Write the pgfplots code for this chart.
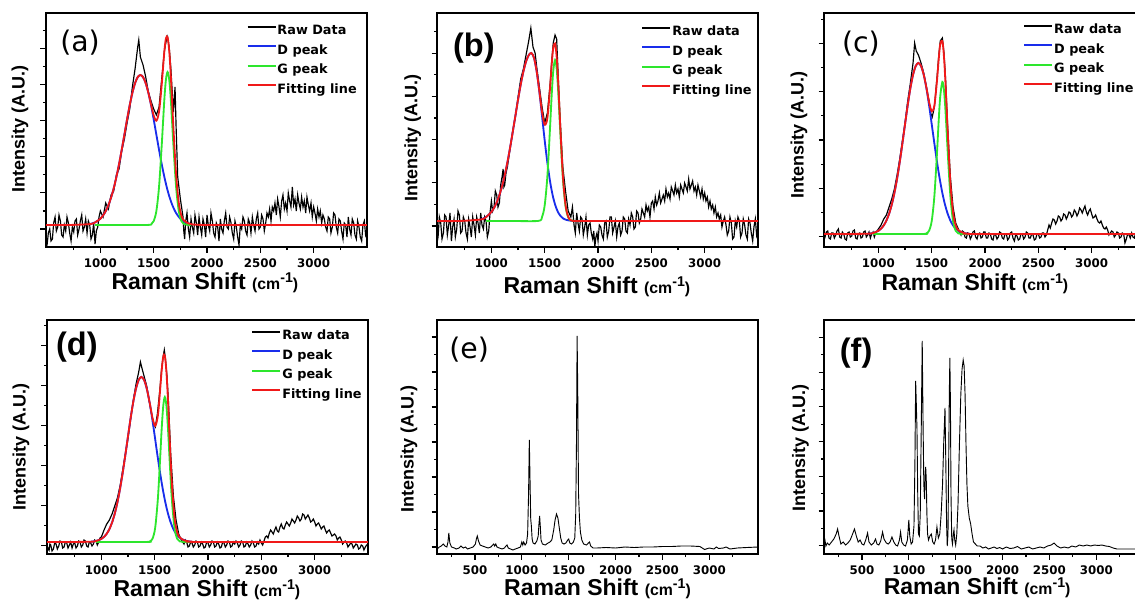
\documentclass[border=0pt]{standalone}
\usepackage{fontspec}
\setmainfont{Liberation Sans}
\newfontfamily\dejavu{DejaVu Sans}
\usepackage{pgfplots}
\pgfplotsset{compat=1.18}
\definecolor{dblue}{RGB}{25,45,235}
\definecolor{ggreen}{RGB}{45,230,45}
\definecolor{fred}{RGB}{240,25,25}
\newcommand{\xlab}{Raman Shift {\fontsize{9.5}{10}\selectfont(cm\raisebox{4.2pt}{\fontsize{8.5}{9}\selectfont -1})}}
\pgfplotsset{
  panel/.style={
    scale only axis, width=192.6pt, height=140.4pt,
    ymin=0, ymax=234,
    axis line style={line width=0.9pt},
    tick align=outside, xtick pos=bottom, ytick pos=left,
    major tick length=3.3pt, minor tick length=1.8pt,
    every tick/.style={black, line width=0.7pt},
    yticklabels={,,},
    ticklabel style={font=\dejavu\bfseries\fontsize{7.1}{8}\selectfont},
    /pgf/number format/assume math mode=true,
    /pgf/number format/1000 sep={},
    xlabel={\xlab},
    ylabel={Intensity (A.U.)},
    xlabel style={font=\bfseries\fontsize{13.8}{15}\selectfont, anchor=base},
    ylabel style={font=\bfseries\fontsize{10.8}{12}\selectfont, anchor=center},
    legend cell align=left,
    legend style={draw=none, fill=none, inner sep=0pt, row sep=3.1pt,
      font=\dejavu\bfseries\fontsize{7.7}{8}\selectfont,
      nodes={inner sep=0.5pt, text height=6pt, text depth=1.6pt}},
  },
  fitx/.style={xmin=490, xmax=3500, xtick={1000,1500,2000,2500,3000},
    minor xtick={750,1250,1750,2250,2750,3250}},
  specx/.style={xmin=95, xmax=3520, xtick={500,1000,1500,2000,2500,3000},
    minor xtick={250,750,1250,1750,2250,2750,3250}},
  rawln/.style={color=black, line width=0.7pt,
    legend image code/.code={\draw[black, line width=1.1pt] (0pt,2.6pt) -- (16.8pt,2.6pt);}},
  dln/.style={color=dblue, line width=1.1pt, smooth,
    legend image code/.code={\draw[dblue, line width=1.2pt] (0pt,2.6pt) -- (16.8pt,2.6pt);}},
  gln/.style={color=ggreen, line width=1.1pt, smooth,
    legend image code/.code={\draw[ggreen, line width=1.2pt] (0pt,2.6pt) -- (16.8pt,2.6pt);}},
  fitln/.style={color=fred, line width=1.1pt, smooth,
    legend image code/.code={\draw[fred, line width=1.2pt] (0pt,2.6pt) -- (16.8pt,2.6pt);}},
  specln/.style={color=black, line width=0.55pt},
}
\begin{document}
\begin{tikzpicture}
% ---------------- (a)
\begin{axis}[panel, fitx, at={(27.6pt,211.8pt)}, anchor=south west,
  ytick={18,54.1,90.2,126.3,162.4,198.5},
  minor ytick={36,72.1,108.2,144.3,180.4,216.5},
  xlabel style={at={(axis description cs:0.495,-0.18)}},
  ylabel style={at={(axis description cs:-0.081,0.504)}},
  legend style={at={(0.624,0.955)}, anchor=north west}]
\addplot[rawln] coordinates {(490,0) (500,2) (512,14) (525,18) (537,6) (550,8) (562,24) (575,30) (587,16) (600,20) (612,32) (625,26) (637,12) (650,10) (662,22) (675,16) (687,30) (700,24) (712,14) (725,6) (737,20) (750,15) (762,26) (775,28) (787,12) (800,18) (812,26) (825,32) (837,16) (850,20) (862,28) (875,14) (887,26) (900,22) (912,8) (925,12) (937,24) (950,3) (962,16) (975,20) (987,30) (1000,36) (1025,30) (1050,44) (1075,38) (1100,52) (1125,56) (1150,72) (1175,78) (1200,96) (1225,108) (1250,124) (1275,138) (1300,160) (1325,178) (1350,200) (1360,207) (1375,190) (1400,182) (1425,170) (1450,155) (1475,146) (1500,138) (1525,132) (1550,140) (1575,168) (1600,196) (1615,205) (1630,210) (1645,200) (1660,180) (1685,135) (1700,160) (1710,120) (1725,70) (1750,48) (1775,30) (1782,16) (1790,8) (1800,26) (1812,34) (1825,18) (1837,10) (1850,28) (1862,20) (1875,14) (1887,32) (1900,24) (1912,12) (1925,30) (1937,20) (1950,12) (1962,28) (1975,22) (1987,10) (2000,32) (2012,22) (2025,16) (2037,34) (2050,26) (2062,14) (2075,10) (2087,24) (2100,20) (2112,6) (2125,28) (2137,18) (2150,14) (2162,26) (2175,34) (2187,20) (2200,18) (2212,30) (2225,24) (2237,14) (2250,8) (2262,26) (2275,20) (2287,10) (2300,2) (2312,22) (2325,18) (2337,30) (2350,26) (2362,16) (2375,12) (2387,28) (2400,24) (2412,14) (2425,30) (2437,22) (2450,16) (2462,28) (2475,34) (2487,18) (2500,20) (2512,32) (2525,28) (2537,16) (2550,24) (2562,34) (2575,30) (2587,38) (2600,26) (2612,40) (2625,36) (2637,44) (2650,32) (2662,48) (2675,40) (2687,30) (2700,46) (2712,52) (2725,38) (2737,44) (2750,36) (2762,54) (2775,46) (2787,40) (2800,60) (2812,42) (2825,48) (2837,36) (2850,52) (2862,44) (2875,38) (2887,50) (2900,40) (2912,46) (2925,34) (2937,50) (2950,42) (2962,36) (2975,44) (2987,30) (3000,40) (3012,34) (3025,26) (3037,38) (3050,30) (3062,36) (3075,24) (3087,32) (3100,28) (3112,20) (3125,16) (3137,30) (3150,28) (3162,14) (3175,20) (3187,34) (3200,32) (3212,20) (3225,14) (3237,28) (3250,26) (3262,16) (3275,8) (3287,24) (3300,22) (3312,10) (3325,30) (3337,18) (3350,12) (3362,28) (3375,24) (3387,12) (3400,8) (3412,26) (3425,20) (3437,10) (3450,6) (3462,22) (3475,26) (3487,12) (3500,16)};
\addlegendentry{Raw Data}
\addplot[dln] coordinates {(900,22.9) (950,24.6) (1000,28.3) (1025,31.5) (1050,35.9) (1075,41.8) (1100,49.3) (1125,58.7) (1150,70.0) (1175,82.9) (1200,97.2) (1225,112.3) (1250,127.5) (1275,141.8) (1300,154.1) (1325,163.8) (1350,169.9) (1375,172) (1400,169.9) (1425,163.8) (1450,154.1) (1475,141.8) (1500,127.5) (1525,112.3) (1550,97.2) (1575,82.9) (1600,70.0) (1625,58.7) (1650,49.3) (1675,41.8) (1700,35.9) (1725,31.5) (1750,28.3) (1775,26.1) (1800,24.6) (1850,22.9)};
\addlegendentry{D peak}
\addplot[gln] coordinates {(950,22) (1200,22) (1450,22.1) (1480,23.2) (1500,25.9) (1525,36.0) (1550,60.2) (1575,101.4) (1600,147.9) (1615,167.7) (1630,175) (1645,167.7) (1660,147.9) (1685,101.4) (1710,60.2) (1735,36.0) (1760,25.9) (1780,23.2) (1810,22.3) (1850,22)};
\addlegendentry{G peak}
\addplot[fitln] coordinates {(490,22) (700,22) (900,22.9) (950,24.6) (1000,28.3) (1025,31.5) (1050,35.9) (1075,41.8) (1100,49.3) (1125,58.7) (1150,70.0) (1175,82.9) (1200,97.2) (1225,112.3) (1250,127.5) (1275,141.8) (1300,154.1) (1325,163.8) (1350,169.9) (1375,172) (1400,169.9) (1425,163.8) (1450,154.1) (1475,142.6) (1500,131.4) (1525,126.3) (1550,135.4) (1575,162.3) (1600,195.9) (1615,208.7) (1630,209.7) (1645,196.7) (1660,172.0) (1685,118.6) (1710,72.2) (1735,44.1) (1760,31.2) (1780,26.9) (1810,24.4) (1850,22.9) (1900,22.3) (2100,22) (3500,22)};
\addlegendentry{Fitting line}
\node[font=\dejavu\fontsize{17}{18}\selectfont] at (rel axis cs:0.106,0.872) {(a)};
\end{axis}
% ---------------- (b)
\begin{axis}[panel, fitx, at={(262.2pt,211.8pt)}, anchor=south west,
  ytick={21,64.2,107.4,150.6,193.8},
  minor ytick={42.6,85.8,129,172.2,215.4},
  xlabel style={at={(axis description cs:0.498,-0.197)}},
  ylabel style={at={(axis description cs:-0.076,0.465)}},
  legend style={at={(0.636,0.951)}, anchor=north west}]
\addplot[rawln] coordinates {(490,4) (500,10) (512,30) (525,24) (537,8) (550,14) (562,32) (575,30) (587,12) (600,22) (612,34) (625,6) (637,20) (650,28) (662,10) (675,18) (687,36) (700,32) (712,14) (725,16) (737,30) (750,26) (762,14) (775,8) (787,28) (800,20) (812,10) (825,30) (837,22) (850,12) (862,30) (875,24) (887,14) (900,34) (912,22) (925,18) (937,30) (950,26) (962,10) (975,16) (987,34) (1000,46) (1012,36) (1025,40) (1037,56) (1050,52) (1062,40) (1075,44) (1087,62) (1100,70) (1110,78) (1117,60) (1125,62) (1137,74) (1150,80) (1175,98) (1200,116) (1225,130) (1250,150) (1275,168) (1300,178) (1325,192) (1350,206) (1370,219) (1390,200) (1410,194) (1425,180) (1450,160) (1475,140) (1500,124) (1525,134) (1550,162) (1565,185) (1580,204) (1597,212) (1612,208) (1627,170) (1645,128) (1670,80) (1695,56) (1720,36) (1745,30) (1760,40) (1775,22) (1787,14) (1800,34) (1812,24) (1825,16) (1837,30) (1850,28) (1862,12) (1875,20) (1887,30) (1900,12) (1912,22) (1925,24) (1937,14) (1950,8) (1960,16) (1970,0) (1980,10) (1990,14) (2000,6) (2012,22) (2025,20) (2037,12) (2050,8) (2062,24) (2075,26) (2087,10) (2100,16) (2112,30) (2125,30) (2137,14) (2150,20) (2162,26) (2175,10) (2187,20) (2200,24) (2212,12) (2225,16) (2237,30) (2250,28) (2262,16) (2275,14) (2287,28) (2300,22) (2312,34) (2325,30) (2337,18) (2350,20) (2362,36) (2375,34) (2387,24) (2400,28) (2412,38) (2425,34) (2437,30) (2450,42) (2462,36) (2475,40) (2487,30) (2500,44) (2512,46) (2525,38) (2537,50) (2550,42) (2562,46) (2575,54) (2587,44) (2600,48) (2612,52) (2625,46) (2637,58) (2650,50) (2662,54) (2675,48) (2687,60) (2700,56) (2712,52) (2725,62) (2737,54) (2750,58) (2762,50) (2775,62) (2787,58) (2800,54) (2812,64) (2825,60) (2837,56) (2850,68) (2862,58) (2875,62) (2887,66) (2900,56) (2912,60) (2925,52) (2937,62) (2950,56) (2962,50) (2975,58) (2987,48) (3000,54) (3012,46) (3025,50) (3037,40) (3050,46) (3062,38) (3075,42) (3087,34) (3100,40) (3112,30) (3125,34) (3137,28) (3150,32) (3162,20) (3175,26) (3187,30) (3200,22) (3212,12) (3225,16) (3237,30) (3250,24) (3262,8) (3275,10) (3287,26) (3300,20) (3312,30) (3325,26) (3337,10) (3350,14) (3362,28) (3375,22) (3387,12) (3400,8) (3412,28) (3425,24) (3437,14) (3450,6) (3462,20) (3475,28) (3487,12) (3500,18)};
\addlegendentry{Raw data}
\addplot[dln] coordinates {(900,27.5) (950,29.9) (1000,35.0) (1025,39.1) (1050,44.7) (1075,51.8) (1100,60.8) (1125,71.7) (1150,84.6) (1175,99.1) (1200,114.9) (1225,131.2) (1250,147.4) (1275,162.5) (1300,175.4) (1325,185.5) (1350,191.8) (1375,194) (1400,189.1) (1425,175.3) (1450,154.9) (1475,130.9) (1500,106.4) (1525,84.2) (1550,65.7) (1575,51.5) (1600,41.5) (1625,34.8) (1650,30.8) (1675,28.4) (1700,27.2) (1750,26.2) (1800,26)};
\addlegendentry{D peak}
\addplot[gln] coordinates {(950,26) (1200,26) (1440,26.1) (1475,30.1) (1500,41.8) (1525,70.8) (1550,119.4) (1565,151.1) (1580,175.9) (1597,187) (1612,178.3) (1627,154.9) (1645,117.1) (1670,69.2) (1695,41.0) (1720,29.8) (1745,26.7) (1800,26) (1850,26)};
\addlegendentry{G peak}
\addplot[fitln] coordinates {(490,26) (700,26) (900,27.5) (950,29.9) (1000,35.0) (1025,39.1) (1050,44.7) (1075,51.8) (1100,60.8) (1125,71.7) (1150,84.6) (1175,99.1) (1200,114.9) (1225,131.2) (1250,147.4) (1275,162.5) (1300,175.4) (1325,185.5) (1350,191.8) (1375,194) (1400,189.1) (1425,175.3) (1450,155.7) (1475,135.0) (1500,122.2) (1525,129.0) (1550,159.1) (1565,181.8) (1580,199.1) (1597,203.5) (1612,190.2) (1627,163.3) (1645,122.5) (1670,72.0) (1695,42.3) (1720,30.4) (1745,26.7) (1800,26) (2000,26) (3500,26)};
\addlegendentry{Fitting line}
\node[font=\bfseries\fontsize{19.5}{20}\selectfont] at (rel axis cs:0.115,0.850) {(b)};
\end{axis}
% ---------------- (c)
\begin{axis}[panel, fitx, at={(494.4pt,211.8pt)}, anchor=south west,
  ytick={10.3,58.65,107,155.35,203.7},
  minor ytick={34.5,82.8,131.2,179.5,227.9},
  xlabel style={at={(axis description cs:0.47,-0.187)}},
  ylabel style={at={(axis description cs:-0.078,0.479)}},
  legend style={at={(0.620,0.959)}, anchor=north west}]
\addplot[rawln] coordinates {(490,12) (500,10) (512,15) (525,16) (537,9) (550,8) (562,14) (575,14) (587,9) (600,12) (612,16) (625,18) (637,10) (650,9) (662,15) (675,13) (687,8) (700,7) (712,14) (725,15) (737,10) (750,11) (762,16) (775,17) (787,9) (800,8) (812,13) (825,14) (837,9) (850,10) (862,15) (875,16) (887,10) (900,12) (912,15) (925,9) (937,13) (950,15) (962,10) (975,14) (987,16) (1000,18) (1025,22) (1050,28) (1075,32) (1100,40) (1125,48) (1150,58) (1175,72) (1200,88) (1225,106) (1250,124) (1275,146) (1300,164) (1325,184) (1340,204) (1355,196) (1375,192) (1400,184) (1425,174) (1450,160) (1475,146) (1490,134) (1505,130) (1525,140) (1550,170) (1565,190) (1580,206) (1600,209) (1615,194) (1630,168) (1650,120) (1675,70) (1700,40) (1725,24) (1750,18) (1775,12) (1787,16) (1800,15) (1812,10) (1825,9) (1837,14) (1850,13) (1862,8) (1875,11) (1887,15) (1900,16) (1912,10) (1925,8) (1937,13) (1950,14) (1962,9) (1975,10) (1987,15) (2000,15) (2012,9) (2025,9) (2037,14) (2050,13) (2062,8) (2075,7) (2087,13) (2100,12) (2112,8) (2125,10) (2137,15) (2150,14) (2162,9) (2175,8) (2187,13) (2200,13) (2212,7) (2225,9) (2237,14) (2250,15) (2262,9) (2275,6) (2287,12) (2300,11) (2312,7) (2325,8) (2337,13) (2350,13) (2362,8) (2375,10) (2387,15) (2400,14) (2412,9) (2425,9) (2437,13) (2450,12) (2462,7) (2475,8) (2487,13) (2500,13) (2512,9) (2525,10) (2537,14) (2550,14) (2562,10) (2575,12) (2590,18) (2600,22) (2612,19) (2625,24) (2637,28) (2650,27) (2662,23) (2675,26) (2687,31) (2700,30) (2712,26) (2725,28) (2737,33) (2750,32) (2762,28) (2775,31) (2787,35) (2800,34) (2812,30) (2825,32) (2837,37) (2850,35) (2862,31) (2875,34) (2887,39) (2900,37) (2912,34) (2925,38) (2937,41) (2950,35) (2962,32) (2975,36) (2987,38) (3000,33) (3012,29) (3025,30) (3037,32) (3050,28) (3062,25) (3075,24) (3087,26) (3100,22) (3112,19) (3125,18) (3137,20) (3150,17) (3162,12) (3175,14) (3187,16) (3200,15) (3212,10) (3225,12) (3237,15) (3250,14) (3262,9) (3275,10) (3287,14) (3300,13) (3312,4) (3325,8) (3337,13) (3350,12) (3362,9) (3375,14) (3387,10) (3400,9) (3412,14) (3425,12) (3437,9) (3450,11) (3462,14) (3475,13) (3487,8) (3500,10)};
\addlegendentry{Raw data}
\addplot[dln] coordinates {(900,13.3) (950,14.0) (1000,16.2) (1025,18.4) (1050,21.6) (1075,26.4) (1100,33.2) (1125,42.2) (1150,53.9) (1175,68.2) (1200,84.9) (1225,103.5) (1250,122.9) (1275,141.9) (1300,158.9) (1325,172.3) (1350,181.0) (1375,184) (1400,181.0) (1425,172.3) (1450,158.9) (1475,141.9) (1500,122.9) (1525,103.5) (1550,84.9) (1575,68.2) (1600,53.9) (1625,42.2) (1650,33.2) (1675,26.4) (1700,21.6) (1725,18.4) (1750,16.2) (1800,14.0) (1850,13.3)};
\addlegendentry{D peak}
\addplot[gln] coordinates {(950,13) (1200,13) (1440,13.1) (1450,13.6) (1475,16.2) (1500,25.9) (1525,50.9) (1550,95.0) (1565,125.4) (1580,150.7) (1600,165) (1615,156.8) (1630,134.7) (1650,95.0) (1675,50.9) (1700,25.9) (1725,16.2) (1750,13.6) (1800,13) (1850,13)};
\addlegendentry{G peak}
\addplot[fitln] coordinates {(490,13) (700,13) (900,13.3) (950,14.0) (1000,16.2) (1025,18.4) (1050,21.6) (1075,26.4) (1100,33.2) (1125,42.2) (1150,53.9) (1175,68.2) (1200,84.9) (1225,103.5) (1250,122.9) (1275,141.9) (1300,158.9) (1325,172.3) (1350,181.0) (1375,184) (1400,181.0) (1425,172.3) (1450,159.5) (1475,145.1) (1500,135.8) (1525,141.4) (1550,166.9) (1565,187.0) (1580,202.8) (1600,205.9) (1615,190.4) (1630,161.9) (1650,115.2) (1675,64.3) (1700,34.5) (1725,21.6) (1750,16.8) (1800,14.0) (1850,13.3) (2000,13) (3500,13)};
\addlegendentry{Fitting line}
\node[font=\dejavu\fontsize{17}{18}\selectfont] at (rel axis cs:0.115,0.868) {(c)};
\end{axis}
% ---------------- (d)
\begin{axis}[panel, fitx, at={(28.2pt,27.6pt)}, anchor=south west,
  ytick={8.3,48.4,88.5,128.6,168.7,208.8},
  minor ytick={28.35,68.45,108.55,148.65,188.75,228.85},
  xlabel style={at={(axis description cs:0.498,-0.182)}},
  ylabel style={at={(axis description cs:-0.081,0.459)}},
  legend style={at={(0.636,0.964)}, anchor=north west}]
\addplot[rawln] coordinates {(490,1) (500,6) (510,4) (517,10) (525,9) (537,3) (550,5) (562,11) (575,10) (587,5) (600,8) (612,13) (625,12) (637,6) (650,7) (662,12) (675,11) (687,6) (700,9) (712,12) (725,6) (737,10) (750,11) (762,6) (775,8) (787,13) (800,12) (812,7) (825,9) (837,14) (850,13) (862,8) (875,7) (887,12) (900,11) (912,8) (925,10) (937,14) (950,13) (962,9) (975,12) (987,16) (1000,17) (1025,24) (1050,30) (1075,34) (1100,40) (1125,48) (1150,56) (1175,68) (1200,84) (1225,100) (1250,116) (1275,136) (1300,154) (1325,170) (1350,182) (1366,192) (1380,186) (1400,178) (1425,168) (1450,152) (1475,138) (1490,130) (1506,127) (1525,140) (1550,166) (1565,186) (1580,198) (1590,204) (1600,196) (1615,178) (1630,150) (1650,100) (1675,58) (1700,34) (1725,20) (1750,14) (1775,10) (1787,14) (1800,12) (1812,7) (1825,8) (1837,12) (1850,11) (1862,7) (1875,9) (1887,13) (1900,12) (1912,7) (1925,8) (1937,12) (1950,10) (1962,6) (1975,7) (1987,12) (2000,11) (2012,7) (2025,9) (2037,13) (2050,12) (2062,7) (2075,8) (2087,12) (2100,10) (2112,6) (2125,7) (2137,12) (2150,11) (2162,7) (2175,9) (2187,13) (2200,12) (2212,7) (2225,8) (2237,12) (2250,10) (2262,13) (2275,11) (2287,7) (2300,9) (2312,13) (2325,12) (2337,7) (2350,8) (2362,12) (2375,10) (2387,7) (2400,9) (2412,13) (2425,11) (2437,7) (2450,8) (2462,12) (2475,10) (2487,14) (2500,11) (2512,9) (2525,13) (2537,17) (2550,18) (2562,16) (2575,21) (2587,24) (2600,22) (2612,20) (2625,24) (2637,27) (2650,23) (2662,22) (2675,27) (2687,30) (2700,26) (2712,25) (2725,29) (2737,32) (2750,30) (2762,28) (2775,31) (2787,35) (2800,33) (2812,31) (2825,34) (2837,38) (2850,36) (2862,33) (2875,35) (2887,40) (2900,39) (2912,35) (2925,37) (2937,39) (2950,36) (2962,32) (2975,33) (2987,35) (3000,32) (3012,28) (3025,30) (3037,31) (3050,28) (3062,25) (3075,27) (3087,28) (3100,24) (3112,21) (3125,23) (3137,24) (3150,21) (3162,18) (3175,19) (3187,20) (3200,18) (3212,14) (3225,16) (3237,17) (3250,14) (3262,10) (3275,12) (3287,13) (3300,11) (3312,7) (3325,9) (3337,11) (3350,10) (3362,6) (3375,8) (3387,10) (3400,9) (3412,5) (3425,6) (3437,9) (3450,8) (3462,4) (3475,7) (3487,9) (3500,9)};
\addlegendentry{Raw data}
\addplot[dln] coordinates {(900,12.3) (950,13.0) (1000,15.1) (1025,17.2) (1050,20.3) (1075,24.9) (1100,31.5) (1125,40.2) (1150,51.5) (1175,65.3) (1200,81.4) (1225,99.3) (1250,118.1) (1275,136.4) (1300,152.8) (1325,165.7) (1350,174.1) (1375,177) (1400,174.1) (1425,165.7) (1450,152.8) (1475,136.4) (1500,118.1) (1525,99.3) (1550,81.4) (1575,65.3) (1600,51.5) (1625,40.2) (1650,31.5) (1675,24.9) (1700,20.3) (1725,17.2) (1750,15.1) (1800,13.0) (1850,12.3)};
\addlegendentry{D peak}
\addplot[gln] coordinates {(950,12) (1200,12) (1440,12.1) (1455,12.6) (1480,15.4) (1505,26.6) (1530,55.8) (1550,93.7) (1565,124.4) (1580,148.0) (1595,157) (1610,148.0) (1625,124.4) (1640,93.7) (1660,55.8) (1685,26.6) (1710,15.4) (1735,12.6) (1800,12) (1850,12)};
\addlegendentry{G peak}
\addplot[fitln] coordinates {(490,12) (700,12) (900,12.3) (950,13.0) (1000,15.1) (1025,17.2) (1050,20.3) (1075,24.9) (1100,31.5) (1125,40.2) (1150,51.5) (1175,65.3) (1200,81.4) (1225,99.3) (1250,118.1) (1275,136.4) (1300,152.8) (1325,165.7) (1350,174.1) (1375,177) (1400,174.1) (1425,165.7) (1455,149.9) (1480,135.7) (1505,128.2) (1530,138.6) (1550,163.1) (1565,183.0) (1580,197.4) (1595,198.2) (1610,181.8) (1625,152.6) (1640,115.7) (1660,71.8) (1685,37.1) (1710,22.0) (1735,16.6) (1775,13.7) (1800,13.0) (1850,12.3) (2000,12) (3500,12)};
\addlegendentry{Fitting line}
\node[font=\bfseries\fontsize{19.5}{20}\selectfont] at (rel axis cs:0.093,0.885) {(d)};
\end{axis}
% ---------------- (e)
\begin{axis}[panel, specx, at={(262.2pt,27.6pt)}, anchor=south west,
  ytick={7,42,77,112,147,182,217},
  minor ytick={24.5,59.5,94.5,129.5,164.5,199.5},
  xlabel style={at={(axis description cs:0.50,-0.178)}},
  ylabel style={at={(axis description cs:-0.087,0.449)}}]
\addplot[specln] coordinates {(95,5) (120,7) (140,8) (162,10) (180,8) (200,7) (212,12) (221,21) (232,11) (250,7) (280,6) (300,5) (330,6) (350,8) (375,6) (400,7) (420,5) (450,6) (480,7) (505,10) (515,15) (525,18) (538,13) (555,9) (580,8) (610,7) (640,6) (670,7) (690,9) (700,10) (710,8) (722,10) (735,7) (760,6) (790,5) (815,6) (830,8) (842,9) (855,6) (880,5) (905,4) (930,5) (960,6) (985,7) (1000,12) (1010,9) (1020,12) (1035,9) (1050,11) (1062,20) (1072,60) (1080,114) (1088,72) (1095,35) (1102,28) (1110,15) (1120,11) (1140,10) (1160,13) (1175,18) (1183,30) (1190,38) (1197,28) (1205,14) (1220,10) (1250,9) (1280,11) (1300,12) (1320,14) (1340,24) (1355,34) (1370,40) (1385,36) (1400,26) (1415,16) (1430,11) (1450,10) (1470,11) (1490,14) (1500,15) (1512,11) (1530,10) (1550,12) (1565,16) (1575,40) (1583,110) (1590,218) (1597,160) (1605,60) (1615,36) (1625,22) (1640,14) (1660,10) (1690,9) (1710,11) (1722,12) (1735,8) (1760,6) (1800,6) (1900,6.5) (2000,6) (2100,7) (2200,6.5) (2300,7) (2400,7) (2500,7.5) (2600,7.5) (2700,8) (2800,8) (2900,7.5) (2950,4.5) (3000,6) (3050,5) (3075,7) (3100,5.5) (3150,6) (3180,7) (3220,5) (3300,6) (3400,6.5) (3520,7)};
\node[font=\dejavu\fontsize{17}{18}\selectfont] at (rel axis cs:0.10,0.872) {(e)};
\end{axis}
% ---------------- (f)
\begin{axis}[panel, specx, at={(494.4pt,27.6pt)}, anchor=south west,
  ytick={8.3,43,77.7,112.4,147.1,181.8,216.5},
  minor ytick={25.65,60.35,95.05,129.75,164.45,199.15},
  xlabel style={at={(axis description cs:0.477,-0.175)}},
  ylabel style={at={(axis description cs:-0.073,0.452)}}]
\addplot[specln] coordinates {(90,10) (105,14) (115,8) (130,11) (150,9) (175,12) (200,15) (225,20) (240,25) (255,18) (275,10) (300,12) (325,9) (350,11) (375,14) (400,20) (420,25) (440,18) (460,12) (480,14) (500,10) (520,9) (540,14) (560,21) (575,12) (600,9) (625,11) (645,15) (660,10) (680,9) (700,13) (720,22) (735,15) (760,11) (780,10) (800,12) (820,17) (840,12) (860,9) (880,8) (900,14) (912,22) (925,12) (945,9) (965,8) (985,14) (1000,34) (1010,18) (1025,10) (1040,12) (1055,28) (1065,90) (1073,173) (1080,150) (1087,125) (1095,60) (1103,20) (1112,18) (1122,40) (1132,120) (1143,213) (1152,130) (1160,70) (1168,55) (1175,80) (1180,87) (1186,75) (1193,40) (1200,20) (1210,14) (1225,18) (1240,20) (1255,12) (1270,10) (1285,14) (1300,27) (1315,16) (1330,20) (1345,40) (1360,70) (1372,110) (1386,146) (1395,90) (1403,30) (1410,8) (1418,20) (1425,90) (1432,160) (1438,196) (1444,150) (1450,60) (1458,15) (1466,10) (1475,20) (1482,24) (1490,14) (1500,9) (1512,20) (1525,50) (1540,110) (1555,160) (1568,185) (1580,194) (1590,188) (1600,160) (1610,110) (1620,70) (1630,48) (1645,36) (1660,30) (1675,20) (1690,12) (1710,10) (1730,8) (1760,8) (1790,6) (1820,7) (1850,5) (1880,6) (1910,7) (1940,5.5) (1970,6.5) (2000,5) (2040,7) (2080,5.5) (2120,6) (2160,7.5) (2200,5) (2240,6) (2280,7) (2320,5) (2360,6) (2400,7) (2440,6) (2480,8) (2520,9) (2550,11) (2580,8) (2620,6) (2660,7) (2700,6) (2740,8) (2780,7) (2820,9) (2860,8) (2900,9) (2940,8) (2980,9) (3020,8.5) (3060,9) (3100,8) (3140,7.5) (3180,6) (3220,5) (3300,5) (3400,5) (3520,5)};
\node[font=\bfseries\fontsize{19.5}{20}\selectfont] at (rel axis cs:0.10,0.859) {(f)};
\end{axis}
\pgfresetboundingbox
\useasboundingbox (0pt,0pt) rectangle (681pt,360pt);
\end{tikzpicture}
\end{document}
